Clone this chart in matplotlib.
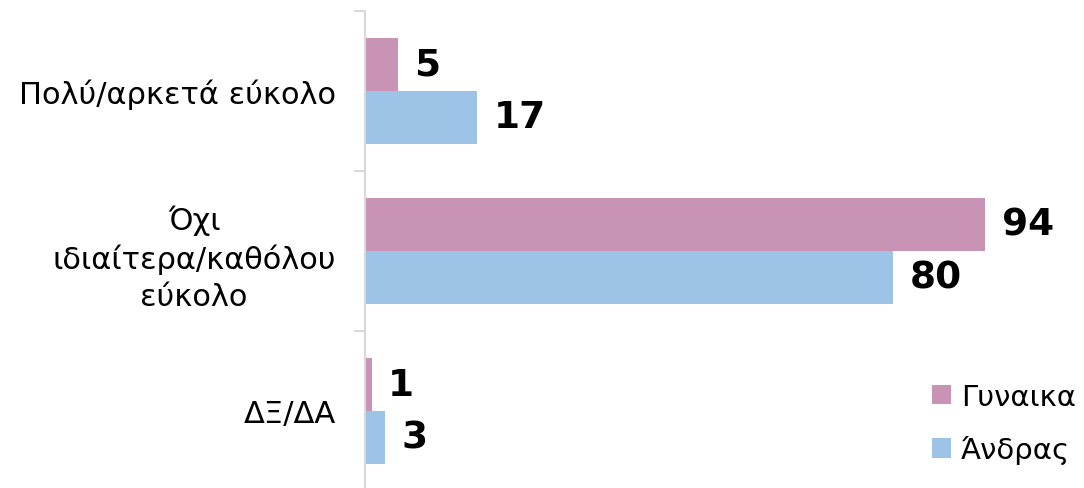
import matplotlib
matplotlib.use("Agg")
import matplotlib.pyplot as plt
import numpy as np

categories = ["Πολύ/αρκετά εύκολο", "Όχι\nιδιαίτερα/καθόλου\nεύκολο", "ΔΞ/ΔΑ"]
series_names = ["Γυναικα", "Άνδρας"]
women = [5, 94, 1]
men = [17, 80, 3]

PINK = "#C993B5"
BLUE = "#9DC3E6"
AXIS_GREY = "#D9D9D9"

plt.rcParams['font.family'] = ['DejaVu Sans']

fig = plt.figure(figsize=(10.84, 4.89), dpi=100)
ax = fig.add_axes([365 / 1084, -3 / 489, 660 / 1084, 480 / 489])

y = np.arange(len(categories))
h = 0.33
ax.barh(y - h / 2, women, height=h, color=PINK, label=series_names[0])
ax.barh(y + h / 2, men, height=h, color=BLUE, label=series_names[1])

# valeurs en gras à droite des barres
for yi, v in zip(y, women):
    ax.text(v + 2.5, yi - h / 2, str(v), va="center", ha="left",
            fontsize=27, fontweight="bold")
for yi, v in zip(y, men):
    ax.text(v + 2.5, yi + h / 2, str(v), va="center", ha="left",
            fontsize=27, fontweight="bold")

ax.set_xlim(0, 100)
ax.set_ylim(len(categories) - 0.5, -0.5)

# tick marks at the category boundaries, labels at the centres
ax.set_yticks(np.arange(-0.5, len(categories), 1))
ax.set_yticklabels([])
ax.tick_params(axis="y", which="major", length=8, width=1.5, color=AXIS_GREY)
ax.set_yticks(y, minor=True)
ax.set_yticklabels(categories, minor=True, fontsize=22, ha="right",
                   multialignment="center", linespacing=1.35)
ax.tick_params(axis="y", which="minor", length=0, pad=21)

ax.set_xticks([])
for side in ["top", "right", "bottom"]:
    ax.spines[side].set_visible(False)
ax.spines["left"].set_color(AXIS_GREY)
ax.spines["left"].set_linewidth(1.5)

fig.legend(loc="center left", bbox_to_anchor=(932 / 1084, 1 - 424.5 / 489),
           frameon=False, fontsize=21, handlelength=0.65, handleheight=0.65,
           handletextpad=0.35, labelspacing=0.85, borderpad=0, borderaxespad=0)

fig.savefig("out.png", dpi=100)
